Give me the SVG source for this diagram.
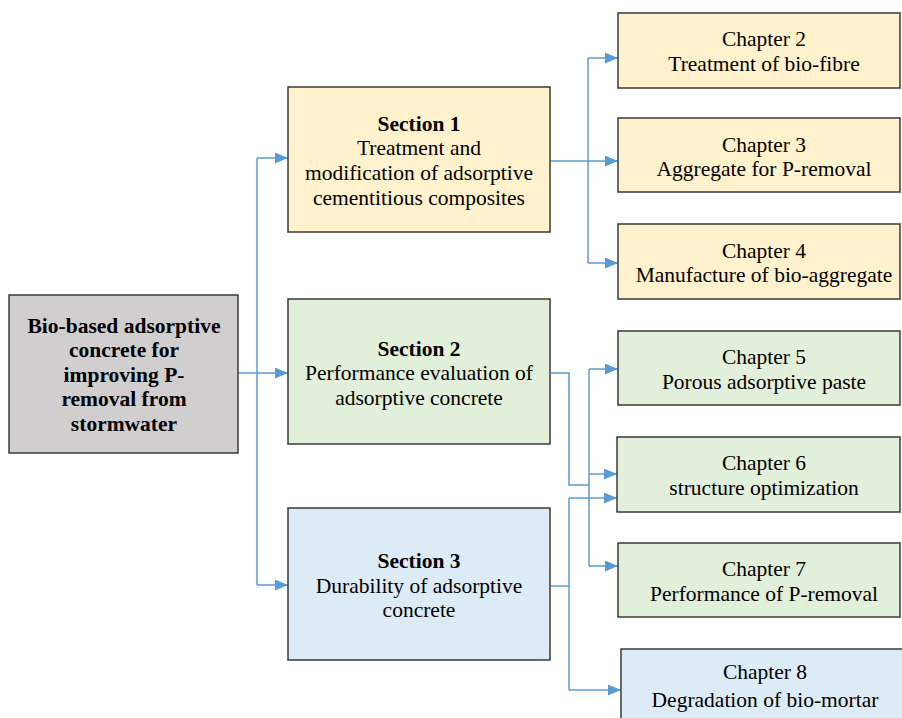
<svg xmlns="http://www.w3.org/2000/svg" width="902" height="718" viewBox="0 0 902 718">
<defs>
<marker id="arr" markerUnits="userSpaceOnUse" markerWidth="14" markerHeight="12" refX="13" refY="5.5" orient="auto">
<path d="M0,0 L13,5.5 L0,11 z" fill="#5b9bd5"/>
</marker>
<style>
.box{stroke:#3a3a3a;stroke-width:1.5}
.y{fill:#fff2cc}.g{fill:#e2efda}.b{fill:#ddebf7}.r{fill:#d0cece}
text{font-family:"Liberation Serif","Times New Roman",serif;font-size:21.5px;fill:#000;text-anchor:middle}
.bd{font-weight:bold}
.c{fill:none;stroke:#5b9bd5;stroke-width:1.5}
.a{marker-end:url(#arr)}
</style>
</defs>
<rect width="902" height="718" fill="#fff"/>
<g id="connectors">
<path class="c a" d="M238,373 H288"/>
<path class="c" d="M257,158 V585"/>
<path class="c a" d="M257,158 H288"/>
<path class="c a" d="M257,585 H288"/>
<path class="c" d="M550,161 H588"/>
<path class="c" d="M588,58 V263"/>
<path class="c a" d="M588,58 H618"/>
<path class="c a" d="M588,161 H618"/>
<path class="c a" d="M588,263 H618"/>
<path class="c" d="M551,373 H569 V485 H589"/>
<path class="c" d="M589,369 V566"/>
<path class="c a" d="M589,369 H618"/>
<path class="c a" d="M589,474 H617"/>
<path class="c a" d="M589,566 H618"/>
<path class="c" d="M551,586 H569"/>
<path class="c" d="M569,498 V690"/>
<path class="c a" d="M569,498 H617"/>
<path class="c a" d="M569,690 H621"/>
</g>
<g id="root">
<rect class="box r" x="9" y="295" width="229" height="158"/>
<text class="bd" x="124" y="333">Bio-based adsorptive</text>
<text class="bd" x="124" y="357">concrete for</text>
<text class="bd" x="124" y="382">improving P-</text>
<text class="bd" x="124" y="406">removal from</text>
<text class="bd" x="124" y="431">stormwater</text>
</g>
<g id="section1">
<rect class="box y" x="288" y="87" width="262" height="145"/>
<text class="bd" x="419" y="131">Section 1</text>
<text x="419" y="155">Treatment and</text>
<text x="419" y="180">modification of adsorptive</text>
<text x="419" y="205">cementitious composites</text>
</g>
<g id="section2">
<rect class="box g" x="288" y="299" width="262" height="145"/>
<text class="bd" x="419" y="356">Section 2</text>
<text x="419" y="380">Performance evaluation of</text>
<text x="419" y="405">adsorptive concrete</text>
</g>
<g id="section3">
<rect class="box b" x="288" y="508" width="262" height="152"/>
<text class="bd" x="419" y="568">Section 3</text>
<text x="419" y="593">Durability of adsorptive</text>
<text x="419" y="617">concrete</text>
</g>
<g id="chapter2">
<rect class="box y" x="618" y="13" width="282" height="75"/>
<text x="764" y="46">Chapter 2</text>
<text x="764" y="71">Treatment of bio-fibre</text>
</g>
<g id="chapter3">
<rect class="box y" x="618" y="118" width="282" height="74"/>
<text x="764" y="152">Chapter 3</text>
<text x="764" y="176">Aggregate for P-removal</text>
</g>
<g id="chapter4">
<rect class="box y" x="618" y="224" width="282" height="75"/>
<text x="764" y="258">Chapter 4</text>
<text x="764" y="282">Manufacture of bio-aggregate</text>
</g>
<g id="chapter5">
<rect class="box g" x="618" y="331" width="282" height="74"/>
<text x="764" y="364">Chapter 5</text>
<text x="764" y="389">Porous adsorptive paste</text>
</g>
<g id="chapter6">
<rect class="box g" x="617" y="437" width="283" height="75"/>
<text x="764" y="470">Chapter 6</text>
<text x="764" y="495">structure optimization</text>
</g>
<g id="chapter7">
<rect class="box g" x="618" y="543" width="282" height="74"/>
<text x="764" y="576">Chapter 7</text>
<text x="764" y="601">Performance of P-removal</text>
</g>
<g id="chapter8">
<rect class="box b" x="621" y="649" width="288" height="76"/>
<text x="765" y="679">Chapter 8</text>
<text x="765" y="707">Degradation of bio-mortar</text>
</g>
</svg>
